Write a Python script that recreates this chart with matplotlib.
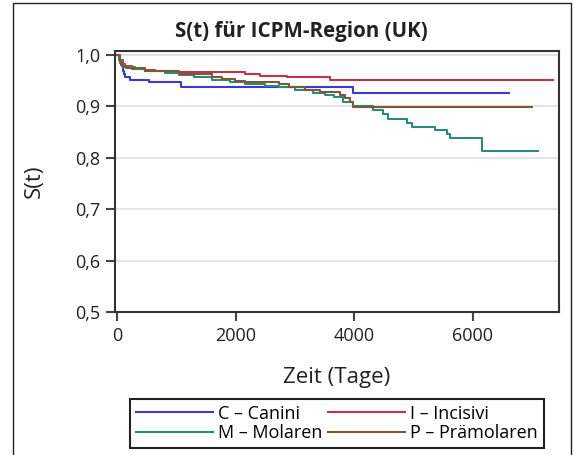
import matplotlib
matplotlib.use("Agg")
import matplotlib.pyplot as plt
from matplotlib.patches import Rectangle
from matplotlib.ticker import FuncFormatter

# Kaplan-Meier S(t) (time in days)
c_t = [0, 30, 60, 90, 110, 135, 214, 530, 1080, 3973, 6616]
c_s = [1.0, 0.99, 0.98, 0.97, 0.963, 0.957, 0.951, 0.947, 0.938, 0.927, 0.927]

i_t = [0, 40, 90, 130, 250, 467, 636, 1008, 2155, 2410, 2864, 3590, 7350]
i_s = [1.0, 0.99, 0.983, 0.978, 0.973, 0.971, 0.969, 0.967, 0.963, 0.960, 0.957, 0.951, 0.951]

m_t = [0, 30, 70, 110, 300, 470, 800, 1040, 1300, 1600, 1900, 2155, 2500, 2730,
       3000, 3300, 3500, 3650, 3809, 3978, 4316, 4485, 4569, 4890, 4974, 5362,
       5565, 5615, 6155, 7100]
m_s = [1.0, 0.99, 0.98, 0.976, 0.973, 0.969, 0.966, 0.962, 0.958, 0.952, 0.948,
       0.943, 0.940, 0.937, 0.932, 0.926, 0.923, 0.918, 0.908, 0.900, 0.893, 0.885,
       0.875, 0.867, 0.861, 0.854, 0.846, 0.838, 0.814, 0.814]

p_t = [0, 40, 80, 150, 470, 1040, 1600, 1770, 1985, 2155, 2730, 2900, 3170, 3420,
       3760, 3840, 3930, 3980, 7000]
p_s = [1.0, 0.985, 0.978, 0.974, 0.970, 0.963, 0.957, 0.954, 0.950, 0.947, 0.943,
       0.937, 0.932, 0.929, 0.923, 0.916, 0.908, 0.899, 0.899]

labels = ["C \u2013 Canini", "I \u2013 Incisivi", "M \u2013 Molaren", "P \u2013 Prämolaren"]
colors = ["#3a3ad2", "#c43248", "#2e8a78", "#7a5a38"]

plt.rcParams['font.family'] = ['Open Sans', 'DejaVu Sans']

fig = plt.figure(figsize=(5.74, 4.55), dpi=100)
ax = fig.add_axes([115/574, 1-312/455, 444/574, 261/455])

series = [(c_t, c_s), (i_t, i_s), (m_t, m_s), (p_t, p_s)]
lines = []
for (t, s), lab, col in zip(series, labels, colors):
    ln, = ax.step(t, s, where='post', color=col, lw=1.5, label=lab)
    lines.append(ln)

ax.set_xlim(-40, 7455)
ax.set_ylim(0.5, 1.008)
ax.set_xticks([0, 2000, 4000, 6000])
ax.set_yticks([0.5, 0.6, 0.7, 0.8, 0.9, 1.0])
ax.yaxis.set_major_formatter(FuncFormatter(lambda v, p: ('%.1f' % v).replace('.', ',')))
ax.grid(axis='y', color='#e2e2e2', lw=1.3)
ax.set_axisbelow(True)
for sp in ax.spines.values():
    sp.set_color('#333333')
    sp.set_linewidth(1.5)
ax.tick_params(length=6.5, width=1.5, color='#444444', labelsize=13, labelcolor='#222222', pad=4)

ax.set_xlabel('Zeit (Tage)', fontsize=16, color='#222222', labelpad=16)
ax.set_ylabel('S(t)', fontsize=16, color='#222222', labelpad=22)
fig.text(301/574, 1-31/455, 'S(t) für ICPM-Region (UK)', ha='center', va='center',
         fontsize=14.8, fontweight='bold', color='#222222')

# matplotlib fills legend columns first: reorder so rows read C, I / M, P
order = [0, 2, 1, 3]
leg = fig.legend([lines[k] for k in order], [labels[k] for k in order],
                 loc='center', bbox_to_anchor=(337/574, 1-423.5/455), ncol=2,
                 fontsize=13, handlelength=4.26, handletextpad=0.28, columnspacing=0.35,
                 labelspacing=0.1, borderpad=0.3, fancybox=False, framealpha=1)
leg.get_frame().set_edgecolor('#222222')
leg.get_frame().set_linewidth(1.5)

# outer frame around the figure (open at the bottom)
fig.patches.append(Rectangle((13/574, -0.05), 558/574, 1.05-3/455, transform=fig.transFigure,
                             fill=False, ec='#222222', lw=1.0))

fig.savefig('out.png', dpi=100)
